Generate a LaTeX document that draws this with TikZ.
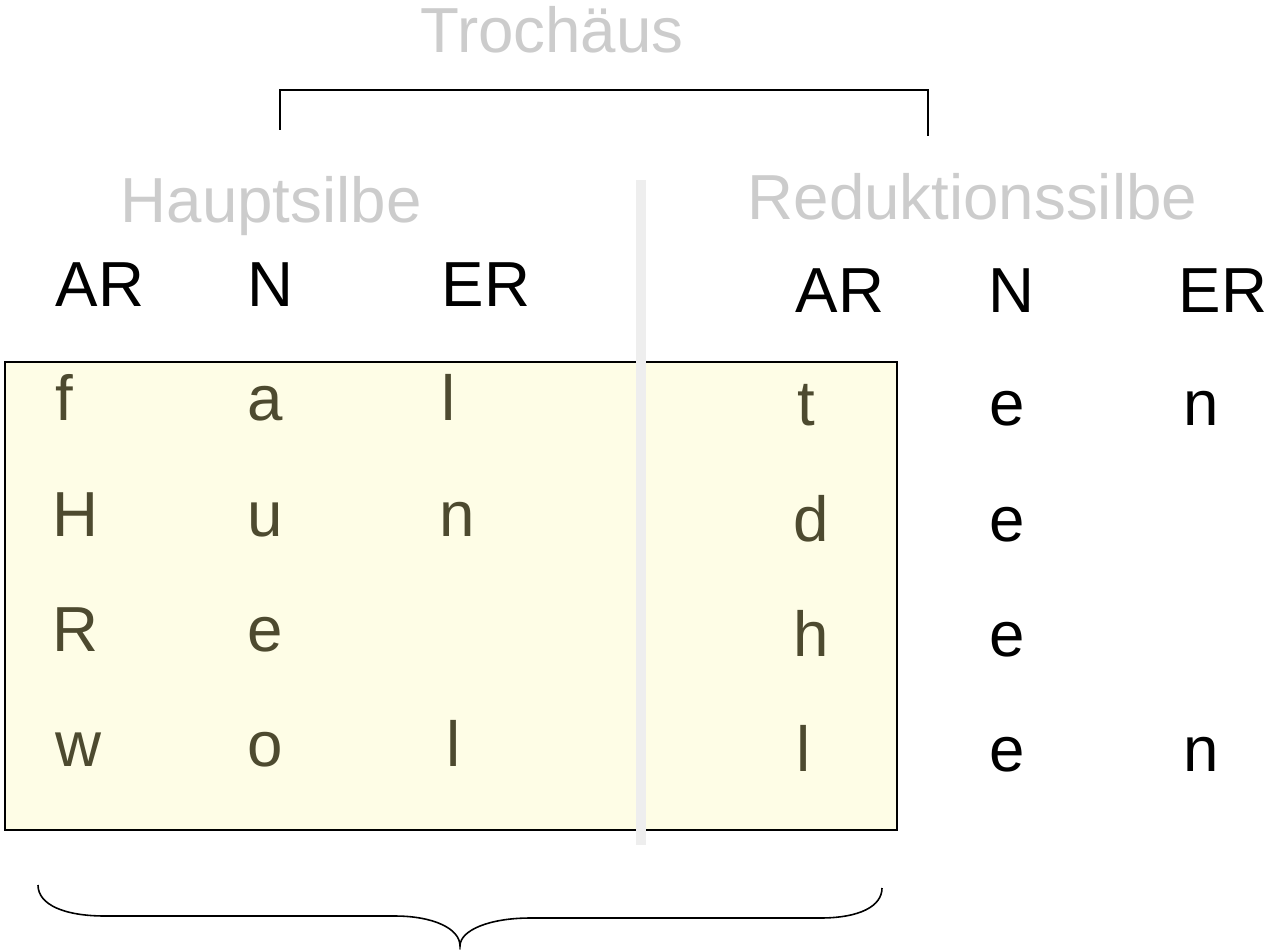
\documentclass[tikz,border=0pt]{standalone}
\usepackage{fontspec}
\setmainfont{Liberation Sans}
\usetikzlibrary{positioning}

\definecolor{boxfill}{HTML}{FEFDE6}
\definecolor{inkolive}{HTML}{4D4A2F}
\definecolor{labelgrey}{HTML}{CCCCCC}
\definecolor{bargrey}{HTML}{EEEEEE}

\tikzset{
  txt/.style={anchor=base west, inner sep=0pt, font=\fontsize{18.1}{22}\selectfont},
  head/.style={txt, text=labelgrey},
  inbox/.style={txt, text=inkolive},
  outbox/.style={txt, text=black}
}

\begin{document}
\begin{tikzpicture}[x=0.01cm, y=-0.01cm]
    \useasboundingbox (0,0) rectangle (1271,949);

    % shaded box and separator bar
    \draw[fill=boxfill, line width=0.6pt] (5,362) coordinate (boxtl) rectangle (897,830) coordinate (boxbr);
    \fill[bargrey] (636,180) rectangle (646,845);

    % headings
    \node[head, anchor=base] (troch) at (552,53) {Trochäus};
    \node[head] (haupt) at (120,222) {Hauptsilbe};
    \node[head] (redukt) at (747,220) {Reduktionssilbe};

    \draw[line width=0.45pt] (280,130) coordinate (brl) |- (928,90) -- (928,136) coordinate (brr);

    % column labels
    \node[outbox] (arL) at (55,307) {AR};
    \node[outbox] (nL)  at (247,307) {N};
    \node[outbox] (erL) at (441,307) {ER};
    \node[outbox] (arR) at (795,312) {AR};
    \node[outbox] (nR)  at (988,312) {N};
    \node[outbox] (erR) at (1178,312) {ER};

    % fallen
    \node[inbox] (f1) at (55,420) {f};
    \node[inbox] (a1) at (247,420) {a};
    \node[inbox] (l1) at (441,420) {l};
    \node[inbox] (t1) at (797,425) {t};
    \node[outbox] (e1) at (989,425) {e};
    \node[outbox] (n1) at (1183,425) {n};

    % Hunde
    \node[inbox] (h2) at (52,536) {H};
    \node[inbox] (u2) at (247,536) {u};
    \node[inbox] (n2) at (439,536) {n};
    \node[inbox] (d2) at (793,541) {d};
    \node[outbox] (e2) at (989,541) {e};

    % Rehe
    \node[inbox] (r3) at (52,651) {R};
    \node[inbox] (e3) at (247,651) {e};
    \node[inbox] (h3) at (793,656) {h};
    \node[outbox] (ee3) at (989,656) {e};

    % wollen
    \node[inbox] (w4) at (55,766) {w};
    \node[inbox] (o4) at (247,766) {o};
    \node[inbox] (l4) at (446,766) {l};
    \node[inbox] (ll4) at (796,771) {l};
    \node[outbox] (e4) at (989,771) {e};
    \node[outbox] (n4) at (1183,771) {n};

    % brace under the box
    \draw[line width=0.45pt] (38,885) .. controls (38,905) and (65,916) .. (105,916)
        -- (395,916) .. controls (432,916) and (460,928) .. (460,946)
        .. controls (460,930) and (490,918) .. (530,918)
        -- (820,918) .. controls (860,918) and (882,906) .. (882,888);

\end{tikzpicture}
\end{document}
